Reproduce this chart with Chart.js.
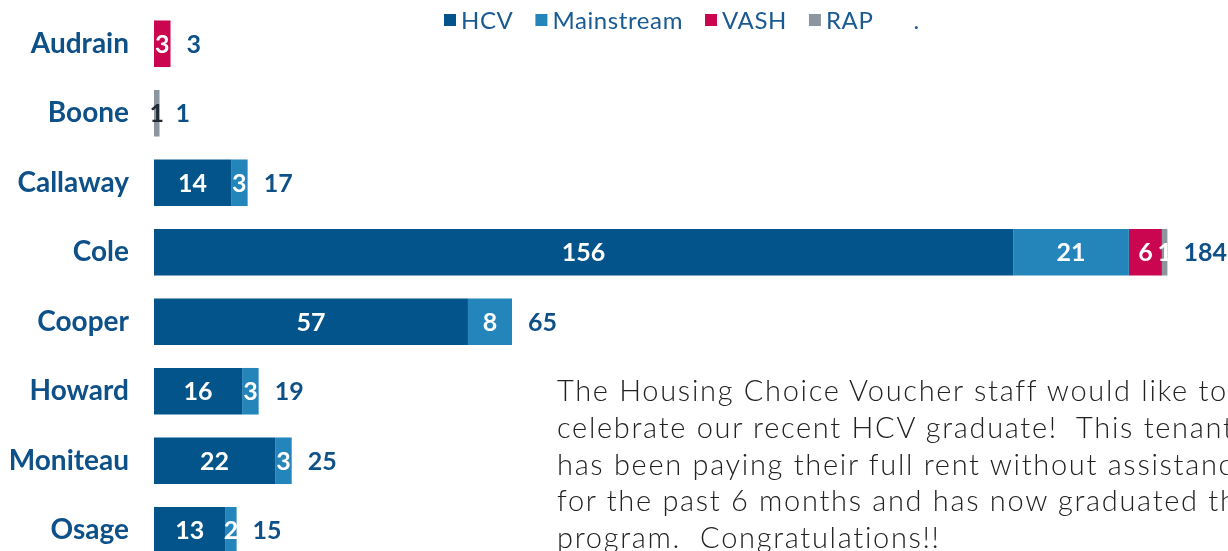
<!DOCTYPE html>
<html>
<head>
<meta charset="utf-8">
<script src="https://cdn.jsdelivr.net/npm/chart.js@4.4.0/dist/chart.umd.min.js"></script>
<style>
  html, body { margin: 0; padding: 0; background: #fff; overflow: hidden; width: 1228px; height: 551px; }
  #wrap { position: relative; width: 1228px; height: 551px; overflow: hidden; }
  #box { position: absolute; left: 0; top: 0; width: 1228px; height: 570px; }
  #note {
    position: absolute; left: 557px; top: 372px;
    font-family: 'Lato', sans-serif; font-weight: 300; font-size: 29px; line-height: 36.8px;
    color: #222; white-space: nowrap;
  }
</style>
</head>
<body>
<div id="wrap">
  <div id="box"><canvas id="c"></canvas></div>
  <div id="note"><span id="l1">The Housing Choice Voucher staff would like to</span><br>celebrate our recent HCV graduate!&nbsp; This tenant<br>has been paying their full rent without assistance<br>for the past 6 months and has now graduated the<br>program.&nbsp; Congratulations!!</div>
</div>
<script>
const categories = ['Audrain', 'Boone', 'Callaway', 'Cole', 'Cooper', 'Howard', 'Moniteau', 'Osage'];
const hcv        = [0, 0, 14, 156, 57, 16, 22, 13];
const mainstream = [0, 0, 3, 21, 8, 3, 3, 2];
const vash       = [3, 0, 0, 6, 0, 0, 0, 0];
const rap        = [0, 1, 0, 1, 0, 0, 0, 0];
const seriesNames = ['HCV', 'Mainstream', 'VASH', 'RAP', '.'];

const totals = categories.map((_, i) => hcv[i] + mainstream[i] + vash[i] + rap[i]);

const colors = ['#03548B', '#2485BB', '#C9064F', '#8D959F', 'rgba(0,0,0,0)'];
const navy = '#0E5088';

// fit the note's letter spacing so the first line spans like the original
(function fitNote() {
  const l1 = document.getElementById('l1');
  const note = document.getElementById('note');
  const w = l1.getBoundingClientRect().width;
  const n = l1.textContent.length;
  note.style.letterSpacing = ((670 - w) / n).toFixed(2) + 'px';
})();

const labelPlugin = {
  id: 'barLabels',
  afterDatasetsDraw(chart) {
    const ctx = chart.ctx;
    ctx.save();
    ctx.textAlign = 'center';
    ctx.textBaseline = 'middle';
    ctx.font = 'bold 25px Lato';
    chart.data.datasets.forEach((ds, di) => {
      if (ds.label === '.') return;
      const meta = chart.getDatasetMeta(di);
      meta.data.forEach((bar, i) => {
        const v = ds.data[i];
        if (!v) return;
        const p = bar.getProps(['x', 'y', 'base'], true);
        ctx.fillStyle = (ds.labelColors && ds.labelColors[i]) || '#fff';
        ctx.fillText(String(v), (p.x + p.base) / 2, p.y + 1);
      });
    });
    const xs = chart.scales.x, ys = chart.scales.y;
    ctx.textAlign = 'left';
    ctx.fillStyle = navy;
    totals.forEach((t, i) => {
      ctx.fillText(String(t), xs.getPixelForValue(t) + 16, ys.getPixelForValue(i) + 1);
    });
    ctx.restore();
  }
};

const legendPlugin = {
  id: 'customLegend',
  afterDraw(chart) {
    const ctx = chart.ctx;
    ctx.save();
    ctx.font = '24px Lato';
    if ('letterSpacing' in ctx) ctx.letterSpacing = '0.6px';
    ctx.textBaseline = 'middle';
    ctx.textAlign = 'left';
    let x = 444;
    const cy = 20;
    chart.data.datasets.forEach((ds) => {
      const isDot = ds.label === '.';
      if (isDot) x += 1;
      ctx.fillStyle = ds.backgroundColor;
      ctx.fillRect(x, cy - 6, 12, 12);
      ctx.fillStyle = '#1A5A93';
      ctx.fillText(ds.label, x + 17, cy + 1);
      x += 17 + ctx.measureText(ds.label).width + 22;
    });
    ctx.restore();
  }
};

const seriesData = [hcv, mainstream, vash, rap, categories.map(() => 0)];

new Chart(document.getElementById('c'), {
  type: 'bar',
  data: {
    labels: categories,
    datasets: seriesNames.map((name, k) => ({
      label: name,
      data: seriesData[k],
      backgroundColor: colors[k],
      borderWidth: 0,
      barPercentage: 0.67,
      categoryPercentage: 1.0,
      labelColors: name === 'RAP' ? ['#fff', '#1F2A36', '#fff', '#fff', '#fff', '#fff', '#fff', '#fff'] : null
    }))
  },
  options: {
    indexAxis: 'y',
    responsive: true,
    maintainAspectRatio: false,
    animation: false,
    devicePixelRatio: 1,
    layout: { padding: { top: 9, bottom: 5, left: 0, right: 0 } },
    plugins: { legend: { display: false }, tooltip: { enabled: false } },
    scales: {
      x: { stacked: true, min: 0, max: 195, display: false },
      y: {
        stacked: true,
        grid: { display: false, drawTicks: false },
        border: { display: false },
        ticks: { padding: 25, color: navy, font: { family: 'Lato', weight: 'bold', size: 28 } },
        afterFit(s) { s.width = 154; s.paddingTop = 0; s.paddingBottom = 0; }
      }
    }
  },
  plugins: [labelPlugin, legendPlugin]
});
</script>
</body>
</html>
